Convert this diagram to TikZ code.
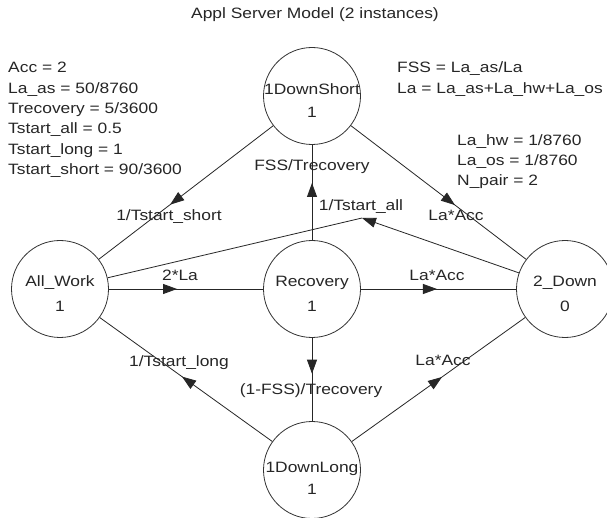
\documentclass[tikz,border=0pt]{standalone}
\usepackage{fontspec}
\setmainfont[FakeStretch=1.16]{Liberation Sans}
\usetikzlibrary{arrows.meta,decorations.markings}
\begin{document}
\begin{tikzpicture}[x=1pt,y=-1pt,
  every node/.style={font=\fontsize{15}{18}\selectfont, text=black!85},
  state/.style={circle, draw=black!80, line width=0.8pt, minimum size=97pt, inner sep=0pt},
  txt/.style={inner sep=0pt, text height=11pt, text depth=3pt},
  edge/.style={draw=black!85, line width=0.8pt},
  tipa/.style={-{Triangle[length=14pt,width=10pt]}},
  midarrow/.style={postaction={decorate},decoration={markings, mark=at position #1 with {\arrow{Triangle[length=14pt,width=10pt]}}}}
]
\useasboundingbox[fill=white] (0,0) rectangle (607,518);

% states
\node[state] (A) at (60,289) {};
\node[state] (R) at (312,289) {};
\node[state] (S) at (312,96) {};
\node[state] (D) at (565,289) {};
\node[state] (L) at (312,470) {};

\node[txt] (At) at (60,283) {All\_Work};
\node[txt] (An) at (60,307) {1};
\node[txt] (Rt) at (312,283) {Recovery};
\node[txt] (Rn) at (312,307) {1};
\node[txt] (St) at (312,91) {1DownShort};
\node[txt] (Sn) at (312,114) {1};
\node[txt] (Dt) at (565,283) {2\_Down};
\node[txt] (Dn) at (565,307) {0};
\node[txt] (Lt) at (312,468) {1DownLong};
\node[txt] (Ln) at (312,490) {1};

% edges
\draw[edge, midarrow=0.591] (S) -- (A);
\draw[edge, midarrow=0.442] (A) -- (R);
\draw[edge, midarrow=0.49] (R) -- (D);
\draw[edge, midarrow=0.594] (S) -- (D);
\draw[edge, midarrow=0.6] (R) -- (S);
\draw[edge, midarrow=0.43] (R) -- (L);
\draw[edge, midarrow=0.523] (L) -- (A);
\draw[edge, midarrow=0.52] (L) -- (D);
\coordinate (B) at (362,218);
\draw[edge, tipa] (D) -- (B);
\draw[edge] (B) -- (A);

% edge labels
\node[txt] (l1) at (169,217) {1/Tstart\_short};
\node[txt] (l2) at (180,277) {2*La};
\node[txt] (l3) at (361,207) {1/Tstart\_all};
\node[txt] (l4) at (456,217) {La*Acc};
\node[txt] (l5) at (437,277) {La*Acc};
\node[txt] (l6) at (312,167) {FSS/Trecovery};
\node[txt] (l7) at (311,390) {(1-FSS)/Trecovery};
\node[txt] (l8) at (179,362) {1/Tstart\_long};
\node[txt] (l9) at (443,361) {La*Acc};

% title
\node[txt] (title) at (315,15) {Appl Server Model (2 instances)};

% left parameters
\node[txt, anchor=west] (p1) at (8,69) {Acc = 2};
\node[txt, anchor=west] (p2) at (8,89.3) {La\_as = 50/8760};
\node[txt, anchor=west] (p3) at (8,109.6) {Trecovery = 5/3600};
\node[txt, anchor=west] (p4) at (8,129.9) {Tstart\_all = 0.5};
\node[txt, anchor=west] (p5) at (8,150.2) {Tstart\_long = 1};
\node[txt, anchor=west] (p6) at (8,170.5) {Tstart\_short = 90/3600};

% right parameters
\node[txt, anchor=west] (q1) at (397,69) {FSS = La\_as/La};
\node[txt, anchor=west] (q2) at (397,89.3) {La = La\_as+La\_hw+La\_os};
\node[txt, anchor=west] (q3) at (457,142) {La\_hw = 1/8760};
\node[txt, anchor=west] (q4) at (457,162) {La\_os = 1/8760};
\node[txt, anchor=west] (q5) at (457,182) {N\_pair = 2};
\end{tikzpicture}
\end{document}
